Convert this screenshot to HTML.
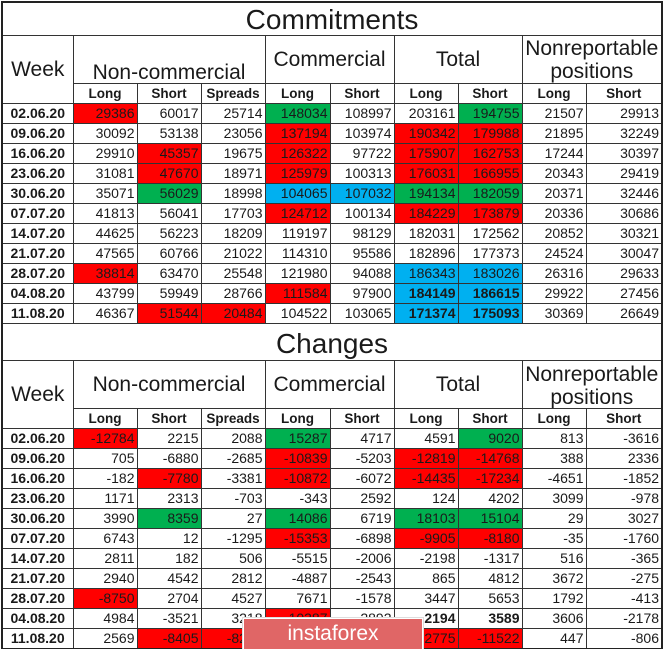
<!DOCTYPE html>
<html><head><meta charset="utf-8"><style>
html,body{margin:0;padding:0;background:#fff;width:665px;height:649px;overflow:hidden;position:relative}
table{position:absolute;left:1px;top:1px;border-collapse:collapse;table-layout:fixed;width:662px;font-family:"Liberation Sans",sans-serif;color:#1a1a1a;border:2px solid #222}
td{border:1px solid #333;padding:0 2px 0 0;height:19px;font-size:14px;text-align:right;white-space:nowrap;overflow:hidden;line-height:19px}
td.w{font-weight:bold;text-align:center;padding:0}
td>div.h{overflow:hidden;position:relative}
.t td{font-size:28px;text-align:center;padding:0;height:auto}
.g td{font-size:21px;text-align:center;padding:0;height:auto;line-height:23px}
.s td{font-weight:bold;text-align:center;font-size:13.5px;padding:0;height:19px}
.r{background:#ff0000}.gr{background:#00b050}.b{background:#00b0f0}
.bo{font-weight:bold}
#wm{position:absolute;left:243px;top:618px;width:178px;height:31px;background:#e06666;border:1px solid #fff;box-shadow:0 0 0 1px #ddd;color:#fff;font-family:"Liberation Sans",sans-serif;font-size:21px;text-align:center;line-height:29px}
</style></head><body>
<table>
<colgroup><col style="width:71px"><col style="width:64px"><col style="width:64px"><col style="width:64px"><col style="width:65px"><col style="width:64px"><col style="width:64px"><col style="width:64px"><col style="width:64px"><col style="width:76px"></colgroup>
<tr class="t"><td colspan="10"><div class="h" style="height:32px;line-height:34px">Commitments</div></td></tr>
<tr class="g"><td rowspan="2"><div class="h" style="height:67px;line-height:67px">Week</div></td><td colspan="3"><div class="h" style="height:47px;line-height:74px">Non-commercial</div></td><td colspan="2"><div class="h" style="height:47px;line-height:48px">Commercial</div></td><td colspan="2"><div class="h" style="height:47px;line-height:48px">Total</div></td><td colspan="2"><div class="h" style="height:47px;padding-top:1px;box-sizing:border-box">Nonreportable<br>positions</div></td></tr>
<tr class="s"><td>Long</td><td>Short</td><td>Spreads</td><td>Long</td><td>Short</td><td>Long</td><td>Short</td><td>Long</td><td>Short</td></tr>
<tr><td class="w">02.06.20</td><td class="r">29386</td><td>60017</td><td>25714</td><td class="gr">148034</td><td>108997</td><td>203161</td><td class="gr">194755</td><td>21507</td><td>29913</td></tr>
<tr><td class="w">09.06.20</td><td>30092</td><td>53138</td><td>23056</td><td class="r">137194</td><td>103974</td><td class="r">190342</td><td class="r">179988</td><td>21895</td><td>32249</td></tr>
<tr><td class="w">16.06.20</td><td>29910</td><td class="r">45357</td><td>19675</td><td class="r">126322</td><td>97722</td><td class="r">175907</td><td class="r">162753</td><td>17244</td><td>30397</td></tr>
<tr><td class="w">23.06.20</td><td>31081</td><td class="r">47670</td><td>18971</td><td class="r">125979</td><td>100313</td><td class="r">176031</td><td class="r">166955</td><td>20343</td><td>29419</td></tr>
<tr><td class="w">30.06.20</td><td>35071</td><td class="gr">56029</td><td>18998</td><td class="b">104065</td><td class="b">107032</td><td class="gr">194134</td><td class="gr">182059</td><td>20371</td><td>32446</td></tr>
<tr><td class="w">07.07.20</td><td>41813</td><td>56041</td><td>17703</td><td class="r">124712</td><td>100134</td><td class="r">184229</td><td class="r">173879</td><td>20336</td><td>30686</td></tr>
<tr><td class="w">14.07.20</td><td>44625</td><td>56223</td><td>18209</td><td>119197</td><td>98129</td><td>182031</td><td>172562</td><td>20852</td><td>30321</td></tr>
<tr><td class="w">21.07.20</td><td>47565</td><td>60766</td><td>21022</td><td>114310</td><td>95586</td><td>182896</td><td>177373</td><td>24524</td><td>30047</td></tr>
<tr><td class="w">28.07.20</td><td class="r">38814</td><td>63470</td><td>25548</td><td>121980</td><td>94088</td><td class="b">186343</td><td class="b">183026</td><td>26316</td><td>29633</td></tr>
<tr><td class="w">04.08.20</td><td>43799</td><td>59949</td><td>28766</td><td class="r">111584</td><td>97900</td><td class="b bo">184149</td><td class="b bo">186615</td><td>29922</td><td>27456</td></tr>
<tr><td class="w">11.08.20</td><td>46367</td><td class="r">51544</td><td class="r">20484</td><td>104522</td><td>103065</td><td class="b bo">171374</td><td class="b bo">175093</td><td>30369</td><td>26649</td></tr>
<tr class="t"><td colspan="10"><div class="h" style="height:36px;line-height:40px">Changes</div></td></tr>
<tr class="g"><td rowspan="2"><div class="h" style="height:67px;line-height:67px">Week</div></td><td colspan="3"><div class="h" style="height:46px;line-height:46px">Non-commercial</div></td><td colspan="2"><div class="h" style="height:46px;line-height:46px">Commercial</div></td><td colspan="2"><div class="h" style="height:46px;line-height:46px">Total</div></td><td colspan="2"><div class="h" style="height:46px;padding-top:1px;box-sizing:border-box">Nonreportable<br>positions</div></td></tr>
<tr class="s"><td>Long</td><td>Short</td><td>Spreads</td><td>Long</td><td>Short</td><td>Long</td><td>Short</td><td>Long</td><td>Short</td></tr>
<tr><td class="w">02.06.20</td><td class="r">-12784</td><td>2215</td><td>2088</td><td class="gr">15287</td><td>4717</td><td>4591</td><td class="gr">9020</td><td>813</td><td>-3616</td></tr>
<tr><td class="w">09.06.20</td><td>705</td><td>-6880</td><td>-2685</td><td class="r">-10839</td><td>-5203</td><td class="r">-12819</td><td class="r">-14768</td><td>388</td><td>2336</td></tr>
<tr><td class="w">16.06.20</td><td>-182</td><td class="r">-7780</td><td>-3381</td><td class="r">-10872</td><td>-6072</td><td class="r">-14435</td><td class="r">-17234</td><td>-4651</td><td>-1852</td></tr>
<tr><td class="w">23.06.20</td><td>1171</td><td>2313</td><td>-703</td><td>-343</td><td>2592</td><td>124</td><td>4202</td><td>3099</td><td>-978</td></tr>
<tr><td class="w">30.06.20</td><td>3990</td><td class="gr">8359</td><td>27</td><td class="gr">14086</td><td>6719</td><td class="gr">18103</td><td class="gr">15104</td><td>29</td><td>3027</td></tr>
<tr><td class="w">07.07.20</td><td>6743</td><td>12</td><td>-1295</td><td class="r">-15353</td><td>-6898</td><td class="r">-9905</td><td class="r">-8180</td><td>-35</td><td>-1760</td></tr>
<tr><td class="w">14.07.20</td><td>2811</td><td>182</td><td>506</td><td>-5515</td><td>-2006</td><td>-2198</td><td>-1317</td><td>516</td><td>-365</td></tr>
<tr><td class="w">21.07.20</td><td>2940</td><td>4542</td><td>2812</td><td>-4887</td><td>-2543</td><td>865</td><td>4812</td><td>3672</td><td>-275</td></tr>
<tr><td class="w">28.07.20</td><td class="r">-8750</td><td>2704</td><td>4527</td><td>7671</td><td>-1578</td><td>3447</td><td>5653</td><td>1792</td><td>-413</td></tr>
<tr><td class="w">04.08.20</td><td>4984</td><td>-3521</td><td>3218</td><td class="r">-10387</td><td>2892</td><td class="bo">-2194</td><td class="bo">3589</td><td>3606</td><td>-2178</td></tr>
<tr><td class="w">11.08.20</td><td>2569</td><td class="r">-8405</td><td class="r">-8271</td><td class="r">-10420</td><td>-1450</td><td class="r">-12775</td><td class="r">-11522</td><td>447</td><td>-806</td></tr>
</table>
<div id="wm">instaforex</div>
</body></html>
